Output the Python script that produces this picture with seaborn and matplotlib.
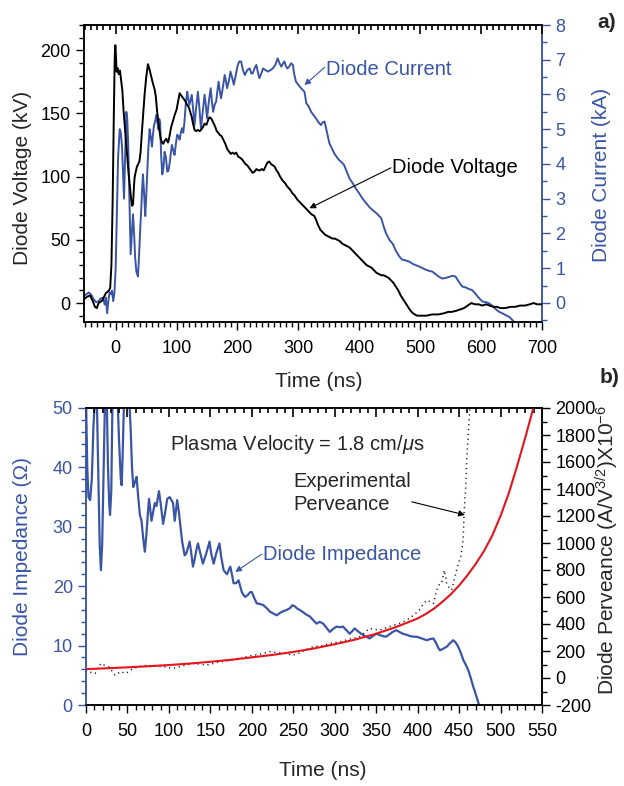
import matplotlib
matplotlib.use("Agg")
import matplotlib.pyplot as plt
import seaborn as sns
import pandas as pd
from matplotlib.ticker import MultipleLocator

sns.set_theme(style="ticks")
plt.rcParams["font.family"] = ["Liberation Sans", "DejaVu Sans"]
plt.rcParams["mathtext.fontset"] = "custom"
plt.rcParams["mathtext.rm"] = "Liberation Sans"
plt.rcParams["mathtext.it"] = "Liberation Sans:italic"
plt.rcParams["axes.unicode_minus"] = False

BLUE = "#3A55A8"
RED = "#E8141B"

# ---------------- panel a) data ----------------
voltage_pts = [(-52,3),(-47,5),(-42,6),(-38,2),(-34,-3),(-31,-4),(-28,0),(-25,1),(-22,2),(-19,5),(-16,8),(-13,9),(-11,10),(-9,12),(-7,30),(-5,80),(-3,150),(-1.5,195),(-0.5,204),(0.5,195),(1.5,183),(3,186),(5,181),(7,184),(9,176),(11,168),(13,152),(15,140),(17,128),(19,115),(21,104),(23,94),(25,84),(27,77),(28.5,78),(30,92),(31,99),(33,104),(35,108),(37,110),(39,112),(41,120),(43,135),(45,148),(47.5,165),(50,178),(53,189),(55,186),(58,180),(61,174),(64,169),(66,163),(68,152),(70,143),(72,136),(74,130),(76,127),(78,126),(80,128),(83,130),(86,127),(88,131),(91,139),(94,144),(97,149),(100,153),(103,161),(105,166),(108,164),(111,162),(114,160),(117,157),(120,155),(122,152),(125,147),(127,142),(129.5,137),(132,136),(135,137),(138,136),(140,137),(143,139),(146,142),(149,141),(152,145),(154,147),(157,146),(160,143),(163,140),(166,136),(168,135),(171,133),(174,132),(177,129),(180,126),(183,122),(186,120),(189,118),(192,119),(195,118),(198,119),(201,116),(204,115),(207,114),(210,112),(213,110),(216,109),(219,107),(222,105),(225,103),(228,104),(231,106),(234,105),(237,105),(240,106),(243,105),(246,108),(249,111),(252,112),(255,110),(258,109),(261,108),(264,105),(267,103),(270,100),(274,97),(278,95),(282,92),(286,90),(290,87),(294,85),(298,82),(302,80),(306,78),(310,76),(314,74),(318,72),(322,70),(326,69),(329,66),(332,62),(336,58),(340,56),(344,54),(348,53),(352,52),(356,51),(360,51),(364,50),(368,49),(372,47),(376,46),(380,45),(384,44),(388,42),(392,40),(396,38),(400,36),(404,34),(408,32),(412,30),(416,29),(420,28),(424,26),(428,24),(432,23),(436,22),(440,22),(444,21),(448,20),(452,18),(456,16),(460,13),(464,10),(468,6),(472,3),(476,0),(480,-3),(484,-6),(488,-8),(491,-9),(495,-10),(500,-10),(510,-10),(520,-9),(530,-9),(540,-8),(546,-7),(552,-7),(560,-6),(566,-5),(572,-4),(578,-2),(584,0),(590,-1),(596,-1),(602,-2),(608,-1),(614,-2),(620,-3),(626,-3),(632,-4),(640,-4),(648,-3),(656,-3),(664,-2),(672,-2),(680,-1),(686,0),(692,-1),(700,-1)]

current_pts = [(-52,0.2),(-48,0.25),(-44,0.3),(-40,0.23),(-36,0.1),(-32,0.02),(-28,0.05),(-25,0.12),(-22,0.15),(-20,0.1),(-18,-0.05),(-16,0.15),(-14,-0.3),(-12,0.05),(-10,0.3),(-8,0.25),(-6,0.35),(-4,0.05),(-2,0.3),(0,1.0),(2,2.6),(4,4.2),(6.6,5.0),(8.5,4.9),(10.4,4.5),(12,3.8),(13.7,3.0),(15.5,4.2),(17.5,5.5),(19,5.3),(20.5,4.6),(22.5,3.0),(24.6,1.4),(26.5,2.0),(28.4,2.55),(30,2.1),(32,1.3),(34,0.9),(36.6,0.76),(38.5,1.4),(40.5,2.2),(42,2.7),(43.5,3.3),(44.8,3.7),(46.5,3.2),(48.6,2.5),(50,3.0),(51.9,3.8),(53.5,4.4),(55.7,5.0),(57.5,4.8),(59.6,4.5),(61,4.8),(62.9,5.12),(64.5,5.2),(66.7,5.41),(68.5,5.2),(70,5.0),(71.5,5.3),(73,5.2),(74.5,4.3),(76.5,3.7),(78.5,3.9),(80.3,4.35),(82.5,4.2),(84.7,3.78),(86.5,3.8),(88.5,4.0),(90.5,4.3),(92.4,4.55),(94.5,4.4),(96.7,4.26),(99,4.6),(101,4.84),(103,4.8),(105,4.7),(107,4.9),(109,5.03),(111,4.9),(113,5.22),(115,5.7),(117.5,6.08),(119,5.9),(121,5.7),(123,5.85),(125,5.99),(127,5.6),(129.5,5.12),(132,5.6),(135,6.08),(137.5,5.6),(140,5.03),(143,5.5),(146,5.99),(148,5.7),(150,5.31),(153,5.8),(156,6.18),(158,5.8),(160,5.5),(162.5,5.7),(165,5.8),(167,6.1),(169,6.37),(171,6.1),(173,5.89),(176,6.2),(179,6.56),(181,6.4),(183,6.18),(186,6.4),(188.5,6.66),(191,6.5),(194,6.28),(197,6.55),(200.5,6.85),(203,6.95),(206,6.95),(209,6.7),(212,6.56),(216,6.7),(220,6.75),(223,6.6),(225,6.61),(228,6.75),(231,6.85),(234,6.6),(236,6.47),(239,6.6),(242,6.75),(246,6.7),(250,6.66),(254,6.7),(258,6.75),(262,6.85),(266,7.04),(269,6.9),(272,6.8),(275,6.9),(277,6.95),(280,6.8),(282,6.75),(285,6.8),(288,6.9),(291,6.85),(293,6.6),(296,6.37),(299,6.3),(302,6.23),(306,6.15),(310,6.08),(313,5.75),(317,5.65),(321,5.5),(325,5.4),(329,5.31),(333,5.2),(337,5.12),(340,5.2),(343,5.22),(347,4.9),(351,4.59),(355,4.45),(359,4.3),(363,4.2),(367,4.11),(371,4.05),(375,3.97),(380,3.75),(384,3.58),(389,3.45),(394,3.3),(400,3.15),(405,3.01),(410,2.9),(416,2.77),(420,2.7),(425,2.63),(430,2.55),(436,2.44),(440,2.2),(444,2.0),(450,1.8),(455,1.7),(460,1.5),(466,1.33),(470,1.25),(476,1.22),(482,1.19),(488,1.12),(494,1.08),(498,1.05),(504,1.0),(510,0.95),(515,0.92),(520,0.9),(526,0.82),(531,0.75),(537,0.7),(542,0.72),(548,0.75),(553,0.78),(558,0.76),(563,0.62),(569,0.47),(574,0.45),(580,0.4),(585,0.37),(590,0.28),(596,0.15),(602,0.04),(608,0.02),(613,-0.01),(618,-0.08),(624,-0.18),(629,-0.25),(635,-0.3),(640,-0.35),(646,-0.4),(650,-0.47),(654,-0.54),(657,-0.6)]

# ---------------- panel b) data ----------------
impedance_pts = [(0,52),(1.5,40),(3,35),(5,34.5),(7,38),(9,47),(11,52),(13,52),(15,38),(16.5,27),(18,22.7),(19.5,27),(21,38),(23,52),(25,52),(26.5,40),(28,34),(29,32),(30.5,36),(32,52),(34,52),(36,52),(38,52),(40,44),(42,38),(43,37),(44,41),(46,52),(48,52),(50,52),(52,52),(54,46),(55.5,40),(57,36.7),(59,37.5),(61,38.4),(63,35),(65,32),(67,31),(69,28),(71,25.8),(73,29),(74.5,32),(76,34.7),(77.5,33),(79,31),(81,32.5),(83,34),(85,33.5),(88,36),(90,34),(93,30.5),(95,32),(98,34.7),(101,35),(103,34.5),(105,34),(107,31),(110,34.5),(112,32.5),(114,30),(116,27.5),(119,25.2),(121,25.5),(123,26.5),(125,27.5),(127,25.5),(129,23.3),(131,24.5),(133,26),(135,27.2),(138,25.5),(141,23.8),(145,25.5),(149,27.5),(151,25.5),(154,23.8),(157,25.5),(161,27.2),(163,25),(166,22.7),(170,22),(174,23.3),(176,22),(178,20.5),(181,20.5),(184,21),(186,20),(188,19),(190,18.5),(192,18.2),(195,18.5),(198,19),(200,19),(203,18),(206,17.1),(210,17),(214,16.8),(218,16.3),(222,15.7),(226,15.4),(230,15.1),(234,15.5),(238,15.8),(242,16),(246,16.3),(249,16.8),(252,16.6),(255,16.2),(258,16),(262,15.6),(266,15.2),(270,14.9),(274,14.3),(278,13.7),(282,14),(286,13.7),(290,13),(294,12.3),(298,12.8),(302,13.2),(306,13.1),(310,13.2),(314,12.6),(318,12),(321,12.4),(324,12.9),(328,12.4),(334,11.8),(338,11.5),(342,11.2),(346,11.6),(350,12),(354,11.8),(358,11.6),(362,11.5),(366,11.9),(370,12.3),(374,12.6),(378,12.3),(382,12),(387,11.8),(391,11.6),(395,11.5),(399,11.5),(403,11.3),(407,11.1),(411,10.9),(415,11.1),(419,11.2),(422,10.5),(425,9.6),(427,9.2),(431,9.5),(435,9.8),(439,10.4),(443,10.9),(446,10.5),(449,9.8),(452,8.8),(455,7.6),(458,6.8),(461,5.9),(464,4.6),(467,3.1),(469,2.3),(471,1.4),(473,0.5),(475,-0.5),(477,-2)]

model_perveance_pts = [(0,66),(25,72),(50,79),(75,87),(100,96),(125,107),(150,120),(175,135),(200,153),(225,171),(250,193),(275,219),(300,250),(325,285),(350,328),(375,380),(400,441),(410,475),(420,515),(430,565),(440,620),(450,685),(460,760),(470,845),(480,940),(490,1055),(500,1200),(510,1370),(520,1570),(530,1785),(540,2010)]

exp_perveance_pts = [(0,60),(3,47),(7,40),(11,34),(14,70),(18,108),(22,95),(27,84),(31,55),(35,22),(38,30),(41,47),(45,40),(48,34),(52,50),(57,71),(62,80),(67,89),(72,92),(76,90),(81,89),(87,86),(93,84),(99,78),(105,71),(109,78),(113,84),(118,92),(124,100),(129,108),(135,104),(140,100),(146,96),(151,104),(157,114),(162,121),(168,126),(173,130),(178,133),(184,140),(189,150),(194,158),(199,165),(204,170),(209,176),(214,182),(218,190),(222,195),(226,192),(230,190),(234,187),(238,184),(242,180),(246,175),(250,170),(254,178),(258,187),(262,200),(266,212),(270,222),(274,232),(278,235),(282,236),(288,245),(294,255),(300,262),(306,268),(312,278),(318,288),(324,296),(330,305),(336,335),(342,367),(348,360),(354,355),(360,368),(366,380),(372,392),(378,404),(384,420),(390,441),(396,470),(402,503),(406,540),(411,577),(415,565),(419,552),(423,651),(426,690),(429,700),(432,799),(434,740),(435,700),(438,670),(441,651),(443,700),(445,749),(447,800),(449,848),(451,880),(452,897),(454,980),(455,1045),(456,1218),(457,1320),(458,1415),(459,1588),(460,1700),(461,1785),(462,1900),(463,2000),(464,2100)]


def frame(pts, ycol):
    return pd.DataFrame(pts, columns=["t", ycol])


df_v = frame(voltage_pts, "v")
df_i = frame(current_pts, "i")
df_z = frame(impedance_pts, "z")
df_pm = frame(model_perveance_pts, "p")
df_pe = frame(exp_perveance_pts, "p")

W, H = 624, 786
fig = plt.figure(figsize=(W / 100, H / 100), dpi=100)

TICK_FS = 13
LABEL_FS = 15
ANN_FS = 14.5
SPINE_LW = 1.1
MAJ, MIN = 6, 3.5
AX_H_PX = 297


def style_common(ax):
    for s in ax.spines.values():
        s.set_linewidth(SPINE_LW)
        s.set_color("black")


def x_ticks_setup(ax, major, minor):
    ax.xaxis.set_major_locator(MultipleLocator(major))
    ax.xaxis.set_minor_locator(MultipleLocator(minor))
    ax.tick_params(axis="x", which="both", top=False, bottom=True,
                   direction="out", labelsize=TICK_FS, colors="black", width=1)
    ax.tick_params(axis="x", which="major", length=MAJ, pad=7)
    ax.tick_params(axis="x", which="minor", length=MIN)


def top_inward_ticks(ax):
    # inward tick marks hanging from the top frame, at the axis' own locator positions
    lo, hi = ax.get_xlim()
    for locs, px in ((ax.xaxis.get_majorticklocs(), 9),
                     (ax.xaxis.get_minorticklocs(), 5)):
        locs = [x for x in locs if lo <= x <= hi]
        ax.vlines(locs, 1 - px / AX_H_PX, 1, transform=ax.get_xaxis_transform(),
                  colors="black", linewidth=1.2, clip_on=False, zorder=10)
    ax.set_xlim(lo, hi)


# ================= panel a =================
axa = fig.add_axes([84 / W, 1 - 322 / H, 458 / W, 297 / H])
axa_r = axa.twinx()
style_common(axa)
style_common(axa_r)

sns.lineplot(data=df_v, x="t", y="v", ax=axa, color="black", lw=1.4,
             estimator=None, sort=False, zorder=3)
sns.lineplot(data=df_i, x="t", y="i", ax=axa_r, color=BLUE, lw=1.4,
             estimator=None, sort=False)
axa.set_zorder(axa_r.get_zorder() + 1)
axa.patch.set_visible(False)

axa.set_xlim(-52, 700)
axa.set_ylim(-15, 220)
axa_r.set_ylim(-0.55, 8)
axa.yaxis.set_major_locator(MultipleLocator(50))
axa.yaxis.set_minor_locator(MultipleLocator(10))
axa_r.yaxis.set_major_locator(MultipleLocator(1))
axa_r.yaxis.set_minor_locator(MultipleLocator(0.5))

axa.tick_params(axis="y", which="both", direction="out", labelsize=TICK_FS,
                width=1, colors="black")
axa.tick_params(axis="y", which="major", length=MAJ)
axa.tick_params(axis="y", which="minor", length=MIN)
x_ticks_setup(axa, 100, 10)
axa_r.tick_params(axis="y", which="both", direction="out", labelsize=TICK_FS,
                  colors=BLUE, width=1)
axa_r.tick_params(which="major", length=MAJ)
axa_r.tick_params(which="minor", length=MIN)
axa_r.spines["right"].set_color(BLUE)
axa.spines["right"].set_color(BLUE)

axa.set_xlabel("Time (ns)", fontsize=LABEL_FS)
axa.xaxis.set_label_coords(0.513, -0.199)
axa.xaxis.label.set_verticalalignment("center")
axa.set_ylabel("Diode Voltage (kV)", fontsize=LABEL_FS)
axa.yaxis.set_label_coords(-0.135, 0.485)
axa.yaxis.label.set_verticalalignment("center")
axa_r.set_ylabel("Diode Current (kA)", fontsize=LABEL_FS, color=BLUE)
axa_r.yaxis.set_label_coords(1.131, 0.495)
axa_r.yaxis.label.set_verticalalignment("center")

arrow_kw = dict(arrowstyle="-|>", lw=0.8, mutation_scale=9, shrinkA=0, shrinkB=0)
axa_r.text(346, 6.72, "Diode Current", color=BLUE, fontsize=ANN_FS,
           ha="left", va="center")
axa_r.annotate("", xy=(310, 6.27), xytext=(343, 6.78),
               arrowprops=dict(color=BLUE, **arrow_kw))
axa.text(454, 107, "Diode Voltage", color="black", fontsize=ANN_FS,
         ha="left", va="center")
axa.annotate("", xy=(318, 75), xytext=(452, 107),
             arrowprops=dict(color="black", **arrow_kw))
fig.text(607 / W, 1 - 22 / H, "a)", fontsize=15, fontweight="bold",
         ha="center", va="center")

# ================= panel b =================
axb = fig.add_axes([86 / W, 1 - 705 / H, 456 / W, 297 / H])
axb_r = axb.twinx()
style_common(axb)
style_common(axb_r)

sns.lineplot(data=df_z, x="t", y="z", ax=axb, color=BLUE, lw=1.6,
             estimator=None, sort=False)
sns.lineplot(data=df_pe, x="t", y="p", ax=axb_r, color="#222222", lw=1.1,
             linestyle=(0, (0.8, 2.4)), estimator=None, sort=False)
sns.lineplot(data=df_pm, x="t", y="p", ax=axb_r, color=RED, lw=1.5,
             estimator=None, sort=False)

axb.set_xlim(0, 550)
axb.set_ylim(0, 50)
axb_r.set_ylim(-200, 2000)
axb.yaxis.set_major_locator(MultipleLocator(10))
axb.yaxis.set_minor_locator(MultipleLocator(2))
axb_r.yaxis.set_major_locator(MultipleLocator(200))
axb_r.yaxis.set_minor_locator(MultipleLocator(100))

x_ticks_setup(axb, 50, 10)
axb.tick_params(axis="y", which="both", direction="out", labelsize=TICK_FS,
                colors=BLUE, width=1)
axb.tick_params(axis="y", which="major", length=MAJ)
axb.tick_params(axis="y", which="minor", length=MIN)
axb_r.tick_params(axis="y", which="both", direction="out", labelsize=TICK_FS,
                  colors="black", width=1)
axb_r.tick_params(which="major", length=MAJ)
axb_r.tick_params(which="minor", length=MIN)
axb.spines["left"].set_color(BLUE)
axb_r.spines["left"].set_color(BLUE)

axb.set_xlabel("Time (ns)", fontsize=LABEL_FS)
axb.xaxis.set_label_coords(0.52, -0.219)
axb.xaxis.label.set_verticalalignment("center")
axb.set_ylabel("Diode Impedance (\u03a9)", fontsize=LABEL_FS, color=BLUE)
axb.yaxis.set_label_coords(-0.140, 0.5)
axb.yaxis.label.set_verticalalignment("center")
axb_r.set_ylabel(r"Diode Perveance (A/V$^{3/2}$)X10$^{-6}$", fontsize=LABEL_FS)
axb_r.yaxis.set_label_coords(1.143, 0.522)
axb_r.yaxis.label.set_verticalalignment("center")

axb.text(101, 43.8, r"Plasma Velocity = 1.8 cm/$\mathit{\mu}$s", fontsize=ANN_FS,
         ha="left", va="center")
axb.text(250, 35.7, "Experimental\nPerveance", fontsize=ANN_FS, ha="left",
         va="center", linespacing=1.3)
axb.annotate("", xy=(457, 32.0), xytext=(393, 34.2),
             arrowprops=dict(color="black", **arrow_kw))
axb.text(213.5, 25.3, "Diode Impedance", color=BLUE, fontsize=ANN_FS,
         ha="left", va="center")
axb.annotate("", xy=(180, 22.4), xytext=(212, 25.4),
             arrowprops=dict(color=BLUE, **arrow_kw))
fig.text(610 / W, 1 - 377 / H, "b)", fontsize=15, fontweight="bold",
         ha="center", va="center")

top_inward_ticks(axa)
top_inward_ticks(axb)

fig.savefig("out.png", dpi=100, facecolor="white")
